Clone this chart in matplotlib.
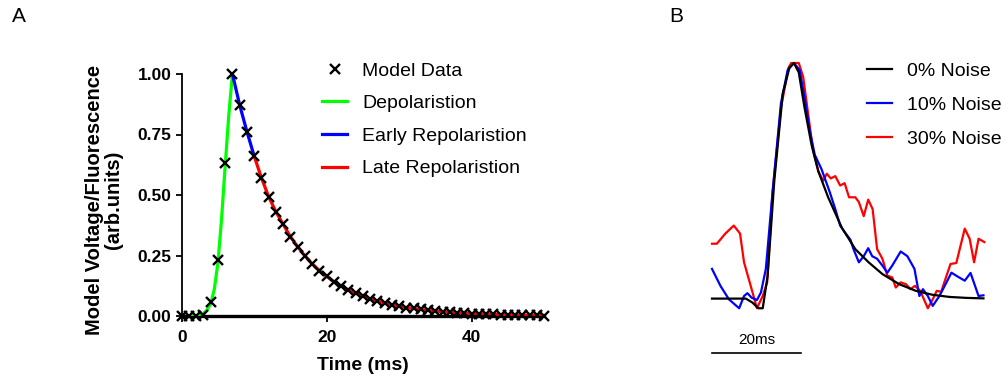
import numpy as np
import matplotlib
matplotlib.use("Agg")
import matplotlib.pyplot as plt

plt.rcParams['font.family'] = ['Liberation Sans', 'DejaVu Sans']

W, H = 1006, 383

# ---- Panel A data (model action potential) ----
model_t = list(range(0, 51))
model_v = [0, 0, 0, 0.005, 0.057, 0.231, 0.631, 1.0, 0.872, 0.762, 0.661,
           0.571, 0.493, 0.431, 0.379, 0.328, 0.286, 0.249, 0.216, 0.188, 0.164,
           0.142, 0.124, 0.108, 0.094, 0.082, 0.071, 0.062, 0.054, 0.047, 0.041,
           0.035, 0.031, 0.027, 0.023, 0.020, 0.018, 0.015, 0.013, 0.012, 0.010,
           0.009, 0.008, 0.007, 0.006, 0.005, 0.004, 0.004, 0.003, 0.003, 0.002]

depol_t = [1, 2, 2.5, 3, 3.5, 4, 4.5, 5, 5.5, 6, 6.5, 7]
depol_v = [0, 0, 0.003, 0.01, 0.025, 0.05, 0.11, 0.22, 0.4, 0.62, 0.83, 1.0]

early_t = model_t[7:11]
early_v = model_v[7:11]
late_t = model_t[10:]
late_v = model_v[10:]

y_ticks = [0, 0.25, 0.5, 0.75, 1.0]
x_ticks = [0, 20, 40]

# ---- Panel B data (traces with added noise) ----
clean_t = [0, 7.6, 9.1, 10.4, 11.4, 12.5, 14.0, 15.9, 17.4, 18.4, 19.5, 20.8,
           22.4, 23.9, 26.1, 29.2, 32.2, 35.2, 38.3, 42.1, 45.8, 49.6, 53.4,
           57.2, 61.0]
clean_v = [0, 0, -0.017, -0.041, -0.041, 0.097, 0.50, 0.87, 0.98, 1.0, 0.96,
           0.81, 0.65, 0.54, 0.43, 0.30, 0.21, 0.154, 0.104, 0.061, 0.033,
           0.016, 0.007, 0.003, 0.001]

noise10_t = [0, 1.9, 3.8, 6.1, 7.2, 7.96, 8.9, 10.1, 11.0, 12.1, 13.6, 15.5,
             17.0, 18.4, 19.7, 21.0, 22.0, 23.1, 24.6, 26.5, 27.7, 28.8, 29.9,
             31.1, 31.8, 33.0, 34.1, 35.1, 36.0, 37.1, 38.3, 39.4, 40.5, 42.4,
             43.9, 45.5, 46.6, 47.4, 48.5, 49.6, 51.1, 52.7, 53.8, 54.9, 56.8,
             58.1, 59.9, 61.0]
noise10_v = [0.126, 0.054, -0.003, -0.041, 0.011, 0.023, 0.004, -0.006, 0.026,
             0.126, 0.45, 0.83, 0.97, 1.0, 0.97, 0.83, 0.71, 0.61, 0.55, 0.45,
             0.38, 0.31, 0.28, 0.25, 0.21, 0.154, 0.18, 0.214, 0.18, 0.169,
             0.14, 0.11, 0.14, 0.20, 0.18, 0.126, 0.011, 0.04, 0.011, -0.031,
             0.011, 0.069, 0.11, 0.097, 0.076, 0.109, 0.011, 0.014]

noise30_t = [0, 1.1, 3.0, 4.9, 6.3, 7.2, 8.7, 10.1, 11.4, 12.4, 13.6, 15.5,
             17.2, 17.8, 19.5, 20.5, 21.7, 22.7, 23.9, 25.0, 25.8, 26.7, 27.7,
             28.8, 29.8, 30.8, 32.2, 33.0, 34.1, 35.1, 36.1, 37.1, 38.3, 39.4,
             40.5, 41.3, 42.4, 43.6, 44.6, 45.6, 46.8, 48.5, 49.6, 50.5, 51.5,
             52.7, 53.6, 54.9, 56.8, 57.9, 58.9, 59.9, 61.2]
noise30_v = [0.233, 0.233, 0.276, 0.31, 0.276, 0.154, 0.054, -0.041, 0.011,
             0.069, 0.45, 0.81, 0.98, 1.0, 1.0, 0.94, 0.77, 0.63, 0.54, 0.50,
             0.53, 0.51, 0.52, 0.48, 0.49, 0.43, 0.43, 0.41, 0.35, 0.42, 0.38,
             0.21, 0.169, 0.097, 0.09, 0.047, 0.069, 0.061, 0.04, 0.054, 0.033,
             -0.041, -0.003, 0.033, 0.029, 0.097, 0.147, 0.151, 0.297, 0.254,
             0.154, 0.254, 0.24]

scale_bar_t = [0, 20]
scale_bar_v = [-0.23, -0.23]

fig = plt.figure(figsize=(W / 100, H / 100), dpi=100)


def px_box(x0, y0, x1, y1):
    # pixel box (top-left origin) -> figure fraction rect
    return [x0 / W, 1 - y1 / H, (x1 - x0) / W, (y1 - y0) / H]


# ---------------- Panel A ----------------
axA = fig.add_axes(px_box(181.7, 74, 544, 316))
axA.plot(depol_t, depol_v, color='#00ff00', lw=2.3, label='Depolaristion', zorder=3)
axA.plot(early_t, early_v, color='#0000ff', lw=2.3, label='Early Repolaristion', zorder=3)
axA.plot(late_t, late_v, color='#ff0000', lw=2.3, label='Late Repolaristion', zorder=3)
axA.plot(model_t, model_v, ls='none', marker='x', ms=7, mew=1.7, color='black',
         label='Model Data', zorder=4, clip_on=False)

axA.set_xlim(0, 50)
axA.set_ylim(0, 1)
axA.set_xticks(x_ticks)
axA.set_yticks(y_ticks)
axA.set_yticklabels([f"{v:.2f}" for v in y_ticks])
for s in ['top', 'right']:
    axA.spines[s].set_visible(False)
axA.spines['left'].set_linewidth(1.3)
axA.spines['bottom'].set_linewidth(2.4)
axA.spines['bottom'].set_zorder(2)
axA.tick_params(axis='y', length=4.5, width=1.3, pad=3, labelsize=12.5)
axA.tick_params(axis='x', length=4, width=1.3, pad=6, labelsize=12.5)
for lab in axA.get_xticklabels() + axA.get_yticklabels():
    lab.set_fontweight('bold')

axA.set_xlabel('Time (ms)', fontsize=14, fontweight='bold')
axA.xaxis.set_label_coords((363 - 181.7) / 362.3, (316 - 365) / 242)
axA.xaxis.label.set_verticalalignment('center')

fig.text(104 / W, 1 - 200 / H, 'Model Voltage/Fluorescence\n(arb.units)',
         rotation=90, ha='center', va='center', ma='center', fontsize=14.5,
         fontweight='bold', linespacing=0.95)

handles, labels = axA.get_legend_handles_labels()
order = [3, 0, 1, 2]
axA.legend([handles[i] for i in order], [labels[i] for i in order],
           loc='upper left', bbox_to_anchor=(321.7 / W, 1 - 62 / H),
           bbox_transform=fig.transFigure, frameon=False, fontsize=14,
           handlelength=1.32, handletextpad=0.75, labelspacing=0.77,
           borderpad=0, borderaxespad=0)

# ---------------- Panel B ----------------
axB = fig.add_axes(px_box(700, 30, 1000, 375))
axB.plot(clean_t, clean_v, color='black', lw=1.6, label='0% Noise', zorder=3)
axB.plot(noise10_t, noise10_v, color='#0000ff', lw=1.6, label='10% Noise', zorder=2)
axB.plot(noise30_t, noise30_v, color='#ff0000', lw=1.6, label='30% Noise', zorder=1)
axB.plot(scale_bar_t, scale_bar_v, color='black', lw=1.2)
axB.text(10, -0.175, '20ms', ha='center', va='center', fontsize=11)
axB.set_xlim(-12 / 4.45, 288 / 4.45)
axB.set_ylim((298.6 - 375) / 235.6, (298.6 - 30) / 235.6)
axB.axis('off')

hB, lB = axB.get_legend_handles_labels()
axB.legend(hB, lB, loc='upper left', bbox_to_anchor=(867 / W, 1 - 62 / H),
           bbox_transform=fig.transFigure, frameon=False, fontsize=14,
           handlelength=1.3, handletextpad=0.75, labelspacing=0.86,
           borderpad=0, borderaxespad=0)

fig.text(18.5 / W, 1 - 16 / H, 'A', ha='center', va='center', fontsize=15)
fig.text(676 / W, 1 - 16 / H, 'B', ha='center', va='center', fontsize=15)

fig.savefig('out.png', dpi=100)
